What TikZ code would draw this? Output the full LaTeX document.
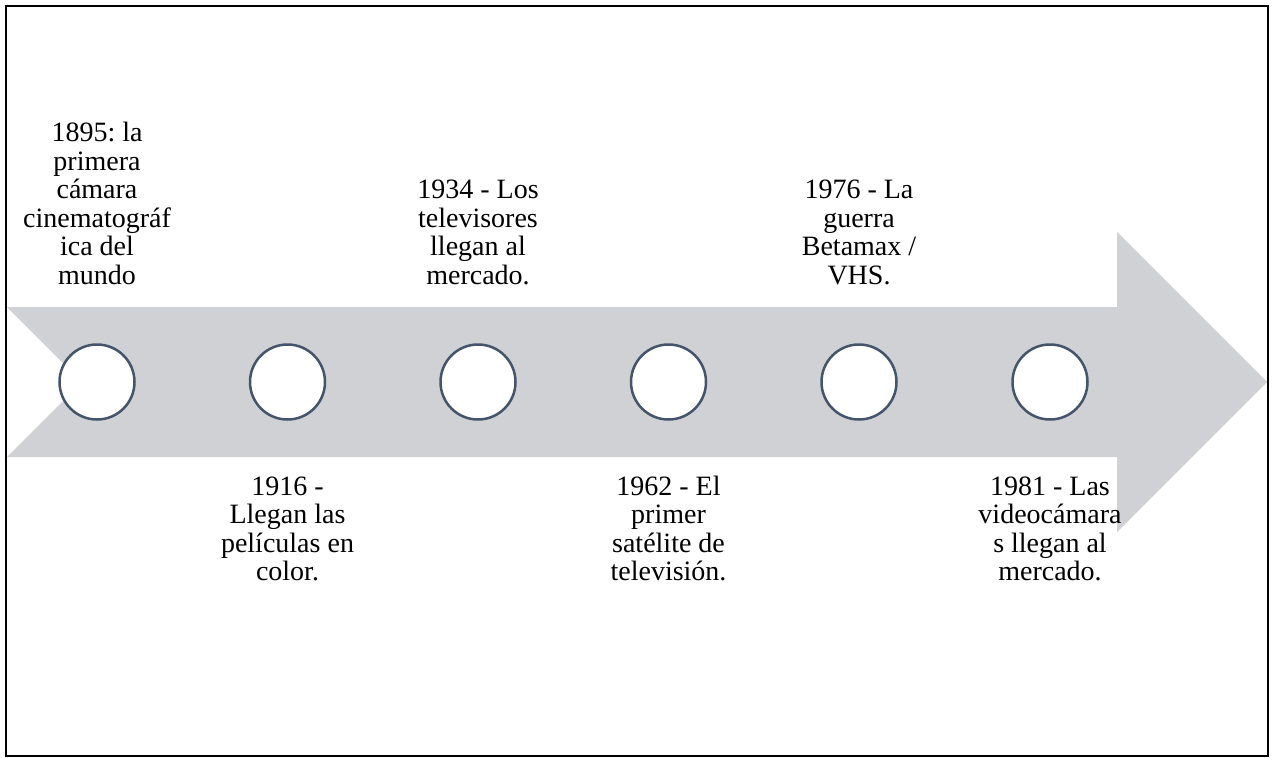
\documentclass[tikz,border=0pt]{standalone}
\usepackage{fontspec}
\setmainfont{Liberation Serif}
\definecolor{arrowgray}{HTML}{D0D1D5}
\definecolor{ringblue}{HTML}{44546A}
\begin{document}
\frenchspacing
\begin{tikzpicture}[x=1pt,y=-1pt,
  ring/.style={circle, draw=ringblue, line width=2.5pt, fill=white, minimum size=75pt, inner sep=0pt},
  lbl/.style={align=center, inner sep=0pt, text=black, font=\fontsize{28}{28.5}\selectfont\frenchspacing}]
\useasboundingbox (0,0) rectangle (1275,758);
% frame
\draw[line width=2pt] (5.5,5.5) rectangle (1267.5,756);
% arrow band
\fill[arrowgray] (7,307) -- (1117,307) -- (1117,232) -- (1267,382) -- (1117,532) -- (1117,457) -- (7,457) -- (82,382) -- cycle;
% circles
\node[ring] (c1) at (97,382) {};
\node[ring] (c2) at (287.5,382) {};
\node[ring] (c3) at (478,382) {};
\node[ring] (c4) at (668.5,382) {};
\node[ring] (c5) at (859,382) {};
\node[ring] (c6) at (1050,382) {};
% labels above (last baseline at about y=284)
\node[lbl, anchor=south] (t1) at (97,293) {1895: la\\primera\\cámara\\cinematográf\\ica del\\mundo\strut};
\node[lbl, anchor=south] (t3) at (478,293) {1934 - Los\\televisores\\llegan al\\mercado.\strut};
\node[lbl, anchor=south] (t5) at (859,293) {1976 - La\\guerra\\Betamax /\\VHS.\strut};
% labels below (first baseline at about y=495)
\node[lbl, anchor=north] (t2) at (287.5,475) {\strut 1916 -\\Llegan las\\películas en\\color.};
\node[lbl, anchor=north] (t4) at (668.5,475) {\strut 1962 - El\\primer\\satélite de\\televisión.};
\node[lbl, anchor=north] (t6) at (1050,475) {\strut 1981 - Las\\videocámara\\s llegan al\\mercado.};
\end{tikzpicture}
\end{document}
